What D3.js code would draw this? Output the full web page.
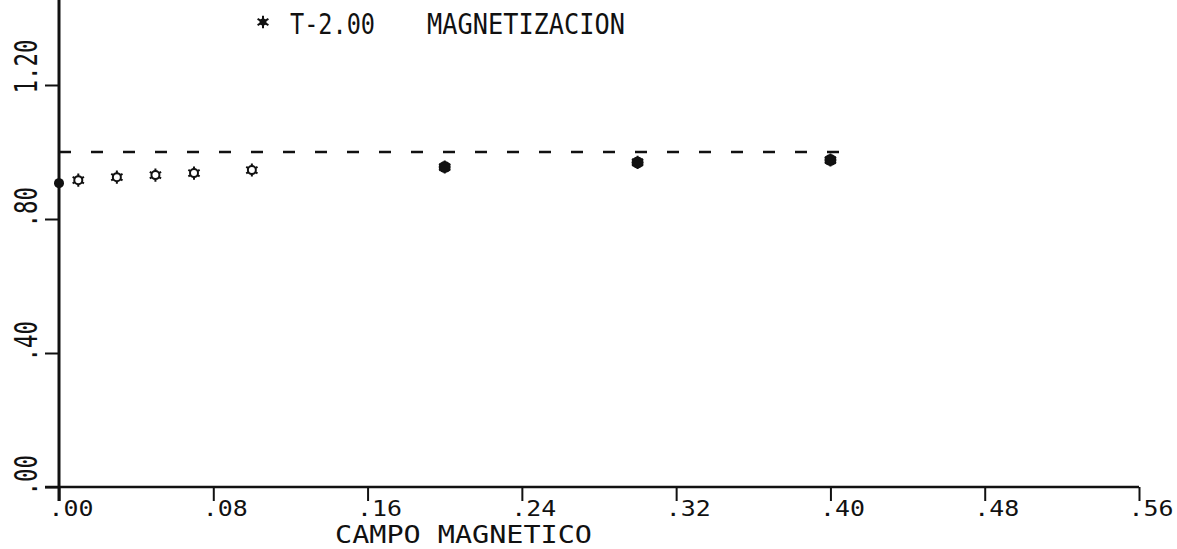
<!DOCTYPE html>
<html>
<head>
<meta charset="utf-8">
<script src="https://cdn.jsdelivr.net/npm/d3@7"></script>
<style>
  body { margin: 0; background: #fff; }
  svg { display: block; }
  text { font-family: "DejaVu Sans Mono", monospace; fill: #111; }
</style>
</head>
<body>
<svg id="chart"></svg>
<script>
// campo magnetico (x) vs magnetizacion (y), T = 2.00
const campo = [0.00, 0.01, 0.03, 0.05, 0.07, 0.10, 0.20, 0.30, 0.40];
const magnetizacion = [0.907, 0.916, 0.925, 0.931, 0.937, 0.946, 0.955, 0.969, 0.976];

// saturation reference (dashed)
const refX = [0.00, 0.41];
const refY = [1.00, 1.00];

const xTicks = [0, 0.08, 0.16, 0.24, 0.32, 0.40, 0.48, 0.56];
const xTickLabels = [".00", ".08", ".16", ".24", ".32", ".40", ".48", ".56"];
const yTicks = [0, 0.4, 0.8, 1.2];
const yTickLabels = [".00", ".40", ".80", "1.20"];

const titleLabel = "T-2.00";
const titleName = "MAGNETIZACION";
const xTitle = "CAMPO MAGNETICO";

const width = 1177, height = 549;
const svg = d3.select("#chart").attr("width", width).attr("height", height);

const x = d3.scaleLinear().domain([0, 0.56]).range([59, 1139]);
const y = d3.scaleLinear().domain([0, 1.2]).range([487, 85]);

const ink = "#111";
const tick = 14;

// x axis
const xAxis = svg.append("g")
  .attr("transform", `translate(0, ${y(0)})`)
  .call(d3.axisBottom(x).tickValues(xTicks).tickSize(tick).tickSizeOuter(0).tickFormat(""));
xAxis.select(".domain").remove();
xAxis.selectAll("line").attr("stroke", ink).attr("stroke-width", 2);
svg.append("line")
  .attr("x1", x(0) - tick).attr("x2", x(0.56))
  .attr("y1", y(0)).attr("y2", y(0))
  .attr("stroke", ink).attr("stroke-width", 2.5);

xAxis.selectAll(".tick").append("text")
  .attr("x", -11).attr("y", 29)
  .attr("text-anchor", "start")
  .style("font-size", "22px")
  .attr("textLength", 45).attr("lengthAdjust", "spacingAndGlyphs")
  .text((d, i) => xTickLabels[i]);

// y axis
const yAxis = svg.append("g")
  .attr("transform", `translate(${x(0)}, 0)`)
  .call(d3.axisLeft(y).tickValues(yTicks).tickSize(tick).tickSizeOuter(0).tickFormat(""));
yAxis.select(".domain").remove();
yAxis.selectAll("line").attr("stroke", ink).attr("stroke-width", 2);
svg.append("line")
  .attr("x1", x(0)).attr("x2", x(0))
  .attr("y1", y(0) + tick).attr("y2", 0)
  .attr("stroke", ink).attr("stroke-width", 3);

// rotated labels read upward, starting just below each tick
yAxis.selectAll(".tick").append("text")
  .attr("transform", "translate(-22, 8) rotate(-90)")
  .attr("text-anchor", "start")
  .style("font-size", "32px")
  .attr("textLength", (d, i) => yTickLabels[i].length * 13.5)
  .attr("lengthAdjust", "spacingAndGlyphs")
  .text((d, i) => yTickLabels[i]);

// dashed reference line
svg.append("path")
  .attr("d", d3.line().x(d => x(d[0])).y(d => y(d[1]))(d3.zip(refX, refY)))
  .attr("fill", "none")
  .attr("stroke", ink)
  .attr("stroke-width", 2.4)
  .attr("stroke-dasharray", "12 20");

// data markers
const pts = d3.zip(campo, magnetizacion);
const star = d3.symbol(d3.symbolAsterisk, 120);
const marks = svg.append("g").selectAll("g")
  .data(pts)
  .join("g")
  .attr("transform", d => `translate(${x(d[0])}, ${y(d[1])})`);

marks.filter(d => d[0] === 0)
  .append("circle").attr("r", 5).attr("fill", ink);

marks.filter(d => d[0] > 0 && d[0] < 0.15).each(function () {
  const g = d3.select(this);
  g.append("path").attr("d", star()).attr("stroke", ink).attr("stroke-width", 2).attr("fill", "none");
  g.append("circle").attr("r", 4).attr("fill", "#fff").attr("stroke", ink).attr("stroke-width", 2);
});

marks.filter(d => d[0] >= 0.15).each(function () {
  const g = d3.select(this);
  g.append("path").attr("d", star()).attr("stroke", ink).attr("stroke-width", 2).attr("fill", "none");
  g.append("circle").attr("r", 6).attr("fill", ink);
});

// title / legend
const legend = svg.append("g").attr("transform", "translate(263, 22)");
legend.append("path").attr("d", d3.symbol(d3.symbolAsterisk, 110)()).attr("stroke", ink).attr("stroke-width", 2).attr("fill", "none");
legend.append("circle").attr("r", 3.5).attr("fill", ink);

svg.append("text")
  .attr("x", 290).attr("y", 34)
  .style("font-size", "29px")
  .attr("textLength", 85).attr("lengthAdjust", "spacingAndGlyphs")
  .text(titleLabel);

svg.append("text")
  .attr("x", 427).attr("y", 34)
  .style("font-size", "29px")
  .attr("textLength", 198).attr("lengthAdjust", "spacingAndGlyphs")
  .text(titleName);

// x axis title
svg.append("text")
  .attr("x", 335).attr("y", 543)
  .style("font-size", "25px")
  .attr("textLength", 257).attr("lengthAdjust", "spacingAndGlyphs")
  .text(xTitle);
</script>
</body>
</html>
